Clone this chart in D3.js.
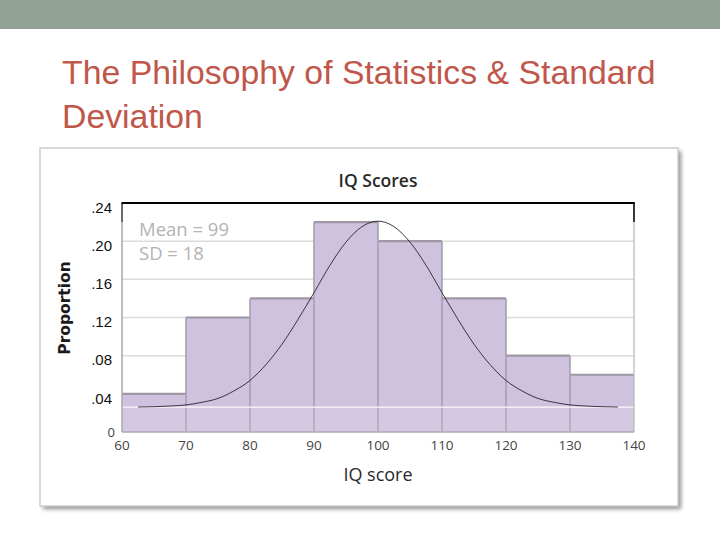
<!DOCTYPE html>
<html>
<head>
<meta charset="utf-8">
<script src="https://cdn.jsdelivr.net/npm/d3@7/dist/d3.min.js"></script>
<style>
html,body{margin:0;padding:0;background:#fff;}
svg{display:block;}
</style>
</head>
<body>
<svg id="chart" width="720" height="540"></svg>
<script>
// ---- data ----
const binStarts = [60, 70, 80, 90, 100, 110, 120, 130];
const binWidth = 10;
const proportions = [0.04, 0.12, 0.14, 0.22, 0.20, 0.14, 0.08, 0.06];
const curveX = [62.5,65,67.5,70,72.5,75,77.5,80,82.5,85,87.5,90,92.5,95,97.5,100,102.5,105,107.5,110,112.5,115,117.5,120,122.5,125,127.5,130,132.5,135,137.5];
const curveY = [0.0262,0.0265,0.0272,0.0284,0.0311,0.0352,0.0431,0.0540,0.0707,0.0920,0.1180,0.1460,0.1748,0.1990,0.2152,0.2210,0.2152,0.1990,0.1748,0.1460,0.1180,0.0920,0.0707,0.0540,0.0431,0.0352,0.0311,0.0284,0.0272,0.0265,0.0262];
const yTicks = [0.04, 0.08, 0.12, 0.16, 0.20, 0.24];
const yTickLabels = [".04", ".08", ".12", ".16", ".20", ".24"];
const xTicks = [60, 70, 80, 90, 100, 110, 120, 130, 140];
const baselineValue = 0.026;
const titleLines = ["The Philosophy of Statistics & Standard", "Deviation"];
const chartTitle = "IQ Scores";
const xLabel = "IQ score";
const yLabel = "Proportion";
const statLines = ["Mean = 99", "SD = 18"];

const svg = d3.select("#chart");

// defs
const defs = svg.append("defs");
const f = defs.append("filter").attr("id", "shadow").attr("x", "-5%").attr("y", "-5%").attr("width", "115%").attr("height", "115%");
f.append("feGaussianBlur").attr("stdDeviation", 2.2);

// top band
svg.append("rect").attr("x", 0).attr("y", 0).attr("width", 720).attr("height", 29).attr("fill", "#92a396");

// slide title
svg.append("g").selectAll("text").data(titleLines).join("text")
  .attr("x", 62).attr("y", (d, i) => 84 + i * 43.5)
  .attr("font-family", "'Liberation Sans', Arial, sans-serif")
  .attr("font-size", 33.8).attr("fill", "#c0574a").text(d => d);

// frame with shadow
svg.append("rect").attr("x", 43).attr("y", 151).attr("width", 638).attr("height", 358)
  .attr("fill", "#8f8f8f").attr("filter", "url(#shadow)");
svg.append("rect").attr("x", 40).attr("y", 148).attr("width", 638).attr("height", 358)
  .attr("fill", "#fff").attr("stroke", "#cdcdcd").attr("stroke-width", 1.5);

// scales
const x = d3.scaleLinear().domain([60, 140]).range([122, 634]);
const y = d3.scaleLinear().domain([0, 0.24]).range([432, 203]);

// gridlines
svg.append("g").selectAll("line").data(yTicks.slice(0, 5)).join("line")
  .attr("x1", x(60)).attr("x2", x(140)).attr("y1", d => y(d)).attr("y2", d => y(d))
  .attr("stroke", "#dcdcdc").attr("stroke-width", 1.5);

// bars
const bars = svg.append("g");
bars.selectAll("rect").data(binStarts).join("rect")
  .attr("x", d => x(d)).attr("width", d => x(d + binWidth) - x(d))
  .attr("y", (d, i) => y(proportions[i])).attr("height", (d, i) => y(0) - y(proportions[i]))
  .attr("fill", "#cec2de");
// lighter band under baseline
svg.append("rect").attr("x", x(60)).attr("width", x(140) - x(60))
  .attr("y", y(baselineValue)).attr("height", y(0) - y(baselineValue))
  .attr("fill", "#fff").attr("opacity", 0.12);
// bar tops
bars.append("g").selectAll("line").data(binStarts).join("line")
  .attr("x1", d => x(d)).attr("x2", d => x(d + binWidth))
  .attr("y1", (d, i) => y(proportions[i])).attr("y2", (d, i) => y(proportions[i]))
  .attr("stroke", "#9e97a5").attr("stroke-width", 2.2);
// bar vertical edges
bars.append("g").selectAll("line").data(binStarts.slice(1)).join("line")
  .attr("x1", d => x(d)).attr("x2", d => x(d))
  .attr("y1", (d) => y(Math.max(proportions[binStarts.indexOf(d)], proportions[binStarts.indexOf(d) - 1])))
  .attr("y2", y(0))
  .attr("stroke", "#a79fae").attr("stroke-width", 1.6);

// white baseline line
svg.append("line").attr("x1", x(60)).attr("x2", x(140)).attr("y1", y(baselineValue)).attr("y2", y(baselineValue))
  .attr("stroke", "#fff").attr("stroke-width", 1.2).attr("opacity", 0.9);

// plot border
svg.append("line").attr("x1", x(60)).attr("x2", x(60)).attr("y1", y(0.24)).attr("y2", y(0))
  .attr("stroke", "#a9a9a9").attr("stroke-width", 1.5);
svg.append("line").attr("x1", x(140)).attr("x2", x(140)).attr("y1", y(0.24)).attr("y2", y(0))
  .attr("stroke", "#b5b5b5").attr("stroke-width", 1.2);
svg.append("line").attr("x1", x(60)).attr("x2", x(140)).attr("y1", y(0)).attr("y2", y(0))
  .attr("stroke", "#b0a9b5").attr("stroke-width", 1.4);
[60, 140].forEach(v => {
  svg.append("line").attr("x1", x(v)).attr("x2", x(v)).attr("y1", y(0.24)).attr("y2", y(0.22))
    .attr("stroke", v === 60 ? "#555" : "#111").attr("stroke-width", 1.6);
});
svg.append("line").attr("x1", x(60) - 0.5).attr("x2", x(140) + 0.8).attr("y1", y(0.24)).attr("y2", y(0.24))
  .attr("stroke", "#000").attr("stroke-width", 2.2);

// normal curve
const line = d3.line().x((d, i) => x(d)).y((d, i) => y(curveY[i])).curve(d3.curveMonotoneX);
svg.append("path").datum(curveX).attr("d", line)
  .attr("fill", "none").attr("stroke", "#2a2235").attr("stroke-width", 0.9);

// y axis labels
svg.append("g").selectAll("text").data(yTicks).join("text")
  .attr("x", 112).attr("y", d => y(d) + 9.8).attr("text-anchor", "end")
  .attr("font-family", "'Liberation Sans', Arial, sans-serif").attr("font-size", 15)
  .attr("fill", "#111").text((d, i) => yTickLabels[i]);
svg.append("text").attr("x", 115).attr("y", 437).attr("text-anchor", "end")
  .attr("font-family", "'Open Sans', sans-serif").attr("font-size", 13).attr("fill", "#444").text("0");

// x axis labels
svg.append("g").selectAll("text").data(xTicks).join("text")
  .attr("x", d => x(d)).attr("y", 449.5).attr("text-anchor", "middle")
  .attr("font-family", "'Open Sans', sans-serif").attr("font-size", 13.5).attr("fill", "#444")
  .text(d => d);

// chart title and axis titles
svg.append("text").attr("x", 378).attr("y", 187).attr("text-anchor", "middle")
  .attr("font-family", "'Open Sans', sans-serif").attr("font-size", 17.5).attr("font-weight", 600)
  .attr("fill", "#2a2a2a").text(chartTitle);
svg.append("text").attr("x", 378).attr("y", 481).attr("text-anchor", "middle")
  .attr("font-family", "'Open Sans', sans-serif").attr("font-size", 18)
  .attr("fill", "#2a2a2a").text(xLabel);
svg.append("text").attr("transform", "translate(69.5,308) rotate(-90)").attr("text-anchor", "middle")
  .attr("font-family", "'DejaVu Sans', sans-serif").attr("font-size", 15.5).attr("font-weight", "bold")
  .attr("fill", "#1a1a1a").text(yLabel);

// stats text
svg.append("g").selectAll("text").data(statLines).join("text")
  .attr("x", 139).attr("y", (d, i) => 236 + i * 23.5)
  .attr("font-family", "'Open Sans', sans-serif").attr("font-size", 18.5)
  .attr("fill", "#b3b3b3").text(d => d);
</script>
</body>
</html>
